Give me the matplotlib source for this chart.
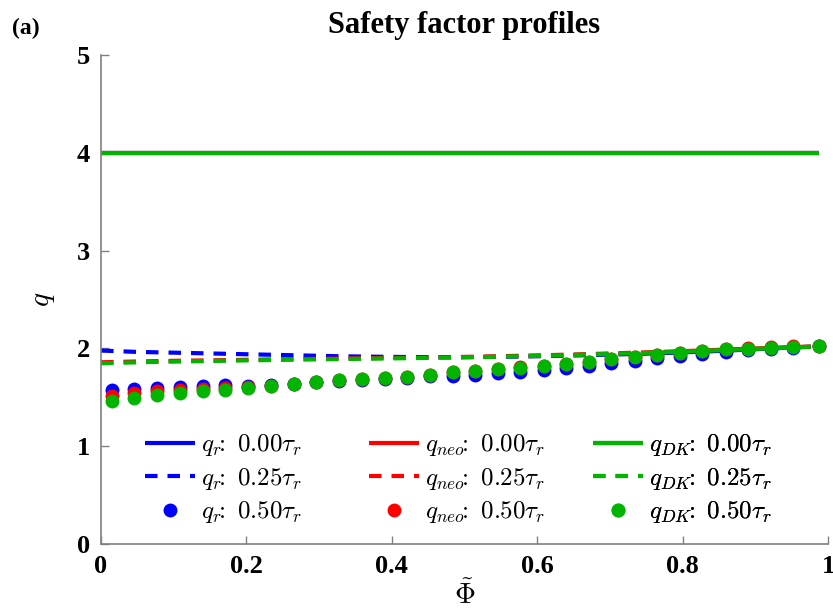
import matplotlib
matplotlib.use('Agg')
import matplotlib.pyplot as plt

plt.rcParams['font.family'] = ['Liberation Serif', 'DejaVu Serif']
plt.rcParams['mathtext.fontset'] = 'cm'

# normalised toroidal flux grid of the sampled profiles (dots)
phi = [0.015, 0.046, 0.077, 0.109, 0.140, 0.171, 0.202, 0.234, 0.265, 0.296,
       0.327, 0.359, 0.390, 0.421, 0.452, 0.484, 0.515, 0.546, 0.577, 0.609,
       0.640, 0.671, 0.702, 0.734, 0.765, 0.796, 0.827, 0.859, 0.890, 0.921,
       0.952, 0.988]
# the continuous curves start on the axis
phi_line = [0.0] + phi[1:]

# t = 0.00 tau_r : flat q = 4 for all three
q_r_0 = [4.0] * len(phi)
q_neo_0 = [4.0] * len(phi)
q_dk_0 = [4.0] * len(phi)

# t = 0.25 tau_r
q_r_25 = [1.978, 1.965, 1.960, 1.955, 1.950, 1.945, 1.940, 1.935, 1.930, 1.925,
          1.920, 1.917, 1.914, 1.912, 1.911, 1.911, 1.912, 1.914, 1.917, 1.921,
          1.926, 1.931, 1.937, 1.943, 1.950, 1.958, 1.967, 1.977, 1.988, 1.999,
          2.010, 2.020]
q_neo_25 = [1.858, 1.866, 1.870, 1.874, 1.877, 1.880, 1.884, 1.887, 1.890, 1.893,
            1.896, 1.899, 1.902, 1.905, 1.908, 1.911, 1.915, 1.920, 1.925, 1.930,
            1.936, 1.942, 1.949, 1.956, 1.963, 1.971, 1.979, 1.988, 1.997, 2.005,
            2.014, 2.022]
q_dk_25 = [1.848, 1.857, 1.862, 1.866, 1.870, 1.874, 1.878, 1.881, 1.885, 1.888,
           1.891, 1.894, 1.897, 1.900, 1.903, 1.906, 1.910, 1.915, 1.920, 1.925,
           1.931, 1.937, 1.944, 1.951, 1.958, 1.966, 1.974, 1.983, 1.992, 2.001,
           2.010, 2.020]

# t = 0.50 tau_r
q_r_50 = [1.575, 1.588, 1.598, 1.603, 1.615, 1.622, 1.618, 1.622, 1.640, 1.652,
          1.665, 1.678, 1.690, 1.700, 1.715, 1.722, 1.732, 1.748, 1.763, 1.780,
          1.800, 1.823, 1.848, 1.873, 1.898, 1.922, 1.943, 1.963, 1.980, 1.995,
          2.008, 2.020]
q_neo_50 = [1.515, 1.540, 1.560, 1.572, 1.590, 1.598, 1.605, 1.615, 1.640, 1.657,
            1.673, 1.688, 1.700, 1.712, 1.733, 1.754, 1.770, 1.788, 1.806, 1.823,
            1.840, 1.863, 1.890, 1.915, 1.935, 1.958, 1.976, 1.992, 2.000, 2.010,
            2.020, 2.026]
q_dk_50 = [1.460, 1.490, 1.525, 1.540, 1.562, 1.574, 1.598, 1.612, 1.640, 1.657,
           1.675, 1.690, 1.700, 1.712, 1.733, 1.754, 1.768, 1.786, 1.804, 1.820,
           1.838, 1.861, 1.888, 1.913, 1.933, 1.956, 1.974, 1.990, 1.997, 2.008,
           2.018, 2.025]

colors = ['#0000ff', '#ff0000', '#00b400']
names = ['r', 'neo', 'DK']

fig = plt.figure(figsize=(8.33, 6.15), dpi=100)
ax = fig.add_axes([0.1213, 0.1154, 0.8727, 0.7952])

series = [(q_r_0, q_r_25, q_r_50), (q_neo_0, q_neo_25, q_neo_50), (q_dk_0, q_dk_25, q_dk_50)]
columns = []
for (s0, s25, s50), c, n in zip(series, colors, names):
    h1, = ax.plot(phi_line, s0, color=c, lw=3, solid_capstyle='butt',
                  label=r'$q_{%s}\!\!:\ 0.00\tau_r$' % n)
    h2, = ax.plot(phi_line, s25, color=c, lw=3, dashes=(3, 2.4),
                  label=r'$q_{%s}\!\!:\ 0.25\tau_r$' % n)
    h3, = ax.plot(phi, s50, color=c, ls='none', marker='o', ms=10, mew=0,
                  label=r'$q_{%s}\!\!:\ 0.50\tau_r$' % n)
    columns.append([h1, h2, h3])

ax.set_xlim(0, 1)
ax.set_ylim(0, 5)
ax.set_xticks([0, 0.2, 0.4, 0.6, 0.8, 1])
ax.set_xticklabels(['0', '0.2', '0.4', '0.6', '0.8', '1'])
ax.set_yticks([0, 1, 2, 3, 4, 5])

for s in ['top', 'right']:
    ax.spines[s].set_visible(False)
for s in ['left', 'bottom']:
    ax.spines[s].set_color('#808080')
    ax.spines[s].set_linewidth(1.2)
ax.tick_params(direction='in', color='#808080', length=6, width=1, labelsize=19, pad=8)
for lab in ax.get_xticklabels() + ax.get_yticklabels():
    lab.set_fontweight('bold')

ax.set_xlabel(r'$\tilde{\Phi}$', fontsize=21, labelpad=2)
ax.set_ylabel(r'$q$', fontsize=21, labelpad=14)
ax.set_title('Safety factor profiles', fontsize=22, fontweight='bold', pad=16)
fig.text(0.014, 0.953, '(a)', fontsize=17, fontweight='bold', va='center')

# one legend per colour column, placed like the original
for hs, x0 in zip(columns, [0.0605, 0.3686, 0.6768]):
    leg = ax.legend(handles=hs, loc='center left', bbox_to_anchor=(x0, 0.133),
                    frameon=False, fontsize=18, handlelength=2.0, numpoints=1,
                    handletextpad=0.25, labelspacing=0.3, borderpad=0, borderaxespad=0)
    ax.add_artist(leg)

plt.savefig('out.png', dpi=100)
